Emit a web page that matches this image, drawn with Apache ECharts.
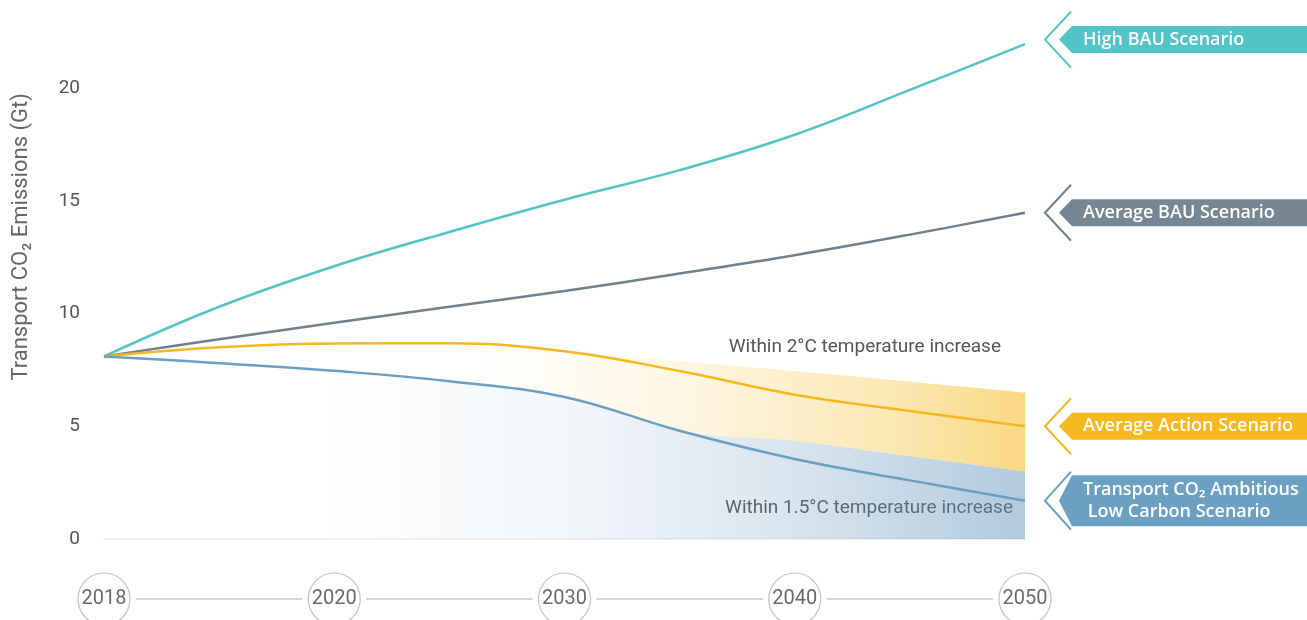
<!DOCTYPE html>
<html><head><meta charset="utf-8">
<script src="https://cdn.jsdelivr.net/npm/echarts@6/dist/echarts.min.js"></script>
<style>html,body{margin:0;padding:0;background:#fff}#c{width:1307px;height:620px}</style>
</head><body><div id="c"></div>
<script>
// sample positions: 0=2018, 1=2020, 2=2030, 3=2040, 4=2050 (equal spacing in the figure)
const xPos = [0, 0.5, 1, 1.5, 2, 2.5, 3, 3.5, 4];
const yearLabels = ['2018', '2020', '2030', '2040', '2050'];
const yearPos = [0, 1, 2, 3, 4];
const yTicks = [0, 5, 10, 15, 20];

const highBAU   = [8.1, 10.3, 12.1, 13.62, 15.05, 16.36, 17.93, 19.92, 21.95];
const avgBAU    = [8.1, 8.86, 9.59, 10.3, 11.0, 11.78, 12.59, 13.5, 14.47];
const avgAction = [8.1, 8.5, 8.67, 8.68, 8.33, 7.45, 6.4, 5.68, 5.0];
const ambitious = [8.1, 7.8, 7.46, 7.0, 6.3, 4.8, 3.55, 2.6, 1.7];

// shaded ranges (upper edges)
const within2Top  = [8.1, 8.5, 8.67, 8.68, 8.33, 7.9, 7.45, 6.98, 6.5];
const within15Top = [8.1, 7.8, 7.46, 7.0, 6.3, 4.8, 4.35, 3.67, 3.0];

// tag centre values (where each scenario tag sits on the y scale)
const tagValues = [22.15, 14.47, 5.0, 1.7];

const seriesNames = ['High BAU Scenario', 'Average BAU Scenario', 'Average Action Scenario', 'Transport CO\u2082 Ambitious\n Low Carbon Scenario'];
const seriesColors = ['#52C3C7', '#6F808D', '#F5B71F', '#6A9FC3'];
const tagColors = ['#52C3C7', '#768692', '#F5B81E', '#6BA0C3'];
const seriesData = [highBAU, avgBAU, avgAction, ambitious];

const annot2 = 'Within 2\u00B0C temperature increase';
const annot15 = 'Within 1.5\u00B0C temperature increase';
const yName = 'Transport CO\u2082 Emissions (Gt)';

const chart = echarts.init(document.getElementById('c'));
const band2 = within2Top.map((v, i) => +(v - within15Top[i]).toFixed(3));

function grad(rgb, stops) {
  return new echarts.graphic.LinearGradient(0, 0, 1, 0,
    stops.map(s => ({ offset: s[0], color: 'rgba(' + rgb + ',' + s[1] + ')' })));
}

const lineSeries = seriesData.map((d, i) => ({
  type: 'line', name: seriesNames[i], data: d, smooth: 0.4, symbol: 'none',
  lineStyle: { color: seriesColors[i], width: 2.5 }, z: 5, silent: true
}));

const option = {
  animation: false,
  textStyle: { fontFamily: 'Roboto' },
  grid: [
    { left: 104, right: 282, top: 43, bottom: 81 },
    { left: 104, right: 282, top: 589, height: 20 }
  ],
  xAxis: [
    { type: 'category', gridIndex: 0, data: xPos.map(String), boundaryGap: false,
      axisLabel: { show: false }, axisTick: { show: false },
      axisLine: { show: true, lineStyle: { color: '#e9ecef', width: 1.5 } }, splitLine: { show: false } },
    { type: 'value', gridIndex: 1, min: 0, max: 4, show: false }
  ],
  yAxis: [
    { type: 'value', gridIndex: 0, min: 0, max: 22, interval: 5,
      axisLine: { show: false }, axisTick: { show: false }, splitLine: { show: false },
      axisLabel: { margin: 24, fontSize: 19, color: '#555', fontFamily: 'Roboto',
        formatter: v => yTicks.indexOf(v) >= 0 ? String(v) : '' } },
    { type: 'value', gridIndex: 1, min: -1, max: 1, show: false }
  ],
  series: [
    { type: 'line', data: within15Top, stack: 'range', smooth: 0.4, symbol: 'none',
      lineStyle: { width: 0 }, silent: true, z: 1,
      areaStyle: { opacity: 1, color: grad('100,150,190', [[0, 0], [0.22, 0], [0.5, 0.08], [0.75, 0.25], [1, 0.5]]) } },
    { type: 'line', data: band2, stack: 'range', smooth: 0.4, symbol: 'none',
      lineStyle: { width: 0 }, silent: true, z: 1,
      areaStyle: { opacity: 1, color: grad('245,185,30', [[0, 0], [0.4, 0], [0.62, 0.12], [0.85, 0.33], [1, 0.55]]) } },
    ...lineSeries,
    { type: 'line', xAxisIndex: 1, yAxisIndex: 1, data: yearPos.map(p => [p, 0]),
      symbol: 'circle', symbolSize: 64, itemStyle: { color: '#fff', borderWidth: 0 },
      lineStyle: { color: '#c6c6c6', width: 1.5 }, silent: true, z: 2 },
    { type: 'scatter', xAxisIndex: 1, yAxisIndex: 1, data: yearPos.map(p => [p, 0]),
      symbolSize: 52, itemStyle: { color: '#fff', borderColor: '#b3b3b3', borderWidth: 1.2 },
      label: { show: true, position: 'inside', fontSize: 20, color: '#444', fontFamily: 'Roboto',
        formatter: p => yearLabels[p.dataIndex] }, silent: true, z: 3 }
  ]
};
chart.setOption(option);

// annotations and scenario tags, positioned through the chart's own scales
const last = xPos.length - 1;
const graphics = [];
const W = 1307;
tagValues.forEach((v, i) => {
  const p = chart.convertToPixel({ gridIndex: 0 }, [last, v]);
  const tipX = p[0] + 20;
  const y = p[1];
  const two = seriesNames[i].indexOf('\n') >= 0;
  const h = two ? 51 : 27;
  const ch = two ? 29 : 28;
  graphics.push({ type: 'polyline', silent: true,
    shape: { points: [[tipX + 26, y - ch], [tipX, y], [tipX + 26, y + ch]] },
    style: { stroke: seriesColors[i], lineWidth: 2, fill: null } });
  graphics.push({ type: 'polygon', silent: true,
    shape: { points: [[tipX + 14, y], [tipX + 27, y - h / 2], [W + 5, y - h / 2], [W + 5, y + h / 2], [tipX + 27, y + h / 2]] },
    style: { fill: tagColors[i] } });
  graphics.push({ type: 'text', silent: true, x: tipX + 38, y: y,
    style: { text: seriesNames[i], fill: '#fff', font: '600 18px "Open Sans"',
      textVerticalAlign: 'middle', textAlign: 'left', lineHeight: 22 } });
});
const a2 = chart.convertToPixel({ gridIndex: 0 }, [last, 8.5]);
const a15 = chart.convertToPixel({ gridIndex: 0 }, [last, 1.38]);
graphics.push({ type: 'text', silent: true, x: a2[0] - 24, y: a2[1],
  style: { text: annot2, fill: '#555', font: '19px Roboto', textAlign: 'right', textVerticalAlign: 'middle' } });
graphics.push({ type: 'text', silent: true, x: a15[0] - 12, y: a15[1],
  style: { text: annot15, fill: '#555', font: '19px Roboto', textAlign: 'right', textVerticalAlign: 'middle' } });
const yc = chart.convertToPixel({ gridIndex: 0 }, [0, 13.4]);
graphics.push({ type: 'text', silent: true, x: 21, y: yc[1], rotation: Math.PI / 2,
  style: { text: yName, fill: '#666', font: '22px Roboto', textAlign: 'center', textVerticalAlign: 'middle' } });
chart.setOption({ graphic: graphics });
</script>
</body></html>
